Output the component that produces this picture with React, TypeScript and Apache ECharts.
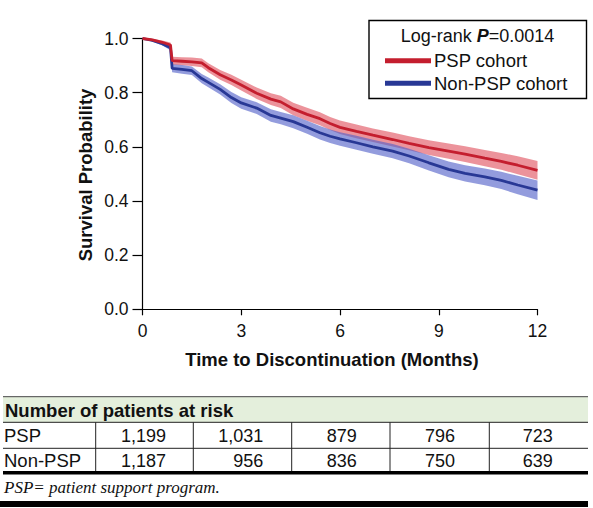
import React, { useEffect, useRef } from 'react';
import * as echarts from 'echarts';

// ---- Data ----
const timePoints = [0, 0.3, 0.6, 0.85, 0.9, 1.2, 1.5, 1.8, 2.0, 2.36, 2.7, 3.0, 3.47, 3.9, 4.2, 4.58, 5.0, 5.39, 5.7, 6.0, 6.5, 7.0, 7.6, 8.1, 8.7, 9.3, 9.8, 10.4, 10.9, 11.4, 12];
const pspSurv = [1.0, 0.995, 0.986, 0.976, 0.918, 0.916, 0.914, 0.91, 0.892, 0.866, 0.847, 0.828, 0.798, 0.776, 0.766, 0.74, 0.72, 0.704, 0.686, 0.672, 0.657, 0.643, 0.627, 0.613, 0.597, 0.584, 0.573, 0.558, 0.546, 0.532, 0.513];
const pspCI = [0, 0.004, 0.007, 0.009, 0.015, 0.015, 0.016, 0.016, 0.017, 0.018, 0.019, 0.02, 0.021, 0.022, 0.023, 0.023, 0.024, 0.024, 0.024, 0.025, 0.025, 0.025, 0.026, 0.026, 0.027, 0.028, 0.029, 0.03, 0.031, 0.033, 0.035];
const nonSurv = [1.0, 0.993, 0.981, 0.966, 0.89, 0.886, 0.881, 0.852, 0.838, 0.812, 0.782, 0.762, 0.743, 0.716, 0.706, 0.693, 0.672, 0.652, 0.639, 0.629, 0.615, 0.6, 0.584, 0.566, 0.541, 0.517, 0.502, 0.489, 0.476, 0.459, 0.44];
const nonCI = [0, 0.004, 0.007, 0.009, 0.015, 0.016, 0.016, 0.017, 0.018, 0.019, 0.02, 0.021, 0.022, 0.023, 0.023, 0.024, 0.024, 0.025, 0.025, 0.025, 0.026, 0.026, 0.026, 0.027, 0.028, 0.029, 0.03, 0.031, 0.032, 0.034, 0.036];

const seriesNames = ['PSP cohort', 'Non-PSP cohort'];
const pValueText = '0.0014';
const xAxisTitle = 'Time to Discontinuation (Months)';
const yAxisTitle = 'Survival Probability';

const tableTitle = 'Number of patients at risk';
const riskRowLabels = ['PSP', 'Non-PSP'];
const pspAtRisk = [1199, 1031, 879, 796, 723];
const nonPspAtRisk = [1187, 956, 836, 750, 639];
const footnote = 'PSP= patient support program.';

// ---- Styles ----
const RED = '#c41e2e';
const BLUE = '#283895';
const RED_BAND = 'rgba(224, 80, 94, 0.62)';
const BLUE_BAND = 'rgba(80, 96, 200, 0.62)';
const SANS = '"Liberation Sans", Arial, Helvetica, sans-serif';
const SERIF = '"Liberation Serif", "Times New Roman", serif';

function bandSeries(t: number[], s: number[], ci: number[], color: string) {
  return {
    type: 'custom',
    coordinateSystem: 'cartesian2d',
    silent: true,
    z: 1,
    data: [[t[0], s[0]]],
    renderItem: (_params: any, api: any) => {
      const upper = t.map((x, i) => api.coord([x, s[i] + ci[i]]));
      const lower = t.map((x, i) => api.coord([x, s[i] - ci[i]])).reverse();
      return {
        type: 'polygon',
        shape: { points: upper.concat(lower) },
        style: { fill: color },
      };
    },
  };
}

function lineSeries(name: string, t: number[], s: number[], color: string, z: number) {
  return {
    name,
    type: 'line',
    data: t.map((x, i) => [x, s[i]]),
    symbol: 'none',
    showSymbol: false,
    z,
    lineStyle: { color, width: 2.8 },
    itemStyle: { color },
  };
}

function txt(text: string, x: number, y: number, opts: any = {}) {
  return {
    type: 'text',
    x,
    y,
    silent: true,
    rotation: opts.rotation || 0,
    style: {
      text,
      fill: opts.fill || '#111',
      fontSize: opts.fontSize || 18,
      fontWeight: opts.fontWeight || 'normal',
      fontStyle: opts.fontStyle || 'normal',
      fontFamily: opts.fontFamily || SANS,
      align: opts.align || 'left',
      verticalAlign: opts.verticalAlign || 'middle',
    },
  };
}

function buildGraphics() {
  const g: any[] = [];
  // axis titles
  g.push(txt(xAxisTitle, 332, 359, { fontWeight: 'bold', fontSize: 18.5, align: 'center' }));
  g.push(txt(yAxisTitle, 85, 175, { fontWeight: 'bold', fontSize: 18.5, align: 'center', rotation: Math.PI / 2 }));

  // legend box
  g.push({ type: 'rect', shape: { x: 369, y: 20.5, width: 217.5, height: 78 }, style: { fill: '#fff', stroke: '#000', lineWidth: 1.4 }, z: 10 });
  g.push({
    type: 'text', x: 477.5, y: 36, z: 11, silent: true,
    style: {
      text: '{a|Log-rank }{b|P}{a|=' + pValueText + '}',
      align: 'center', verticalAlign: 'middle',
      rich: {
        a: { fontSize: 18, fontFamily: SANS, fill: '#111' },
        b: { fontSize: 18, fontFamily: SANS, fontWeight: 'bold', fontStyle: 'italic', fill: '#111' },
      },
    },
  });
  const legColors = [RED, BLUE];
  const legY = [60.7, 83.3];
  seriesNames.forEach((n, i) => {
    g.push({ type: 'line', z: 11, shape: { x1: 385, y1: legY[i], x2: 431, y2: legY[i] }, style: { stroke: legColors[i], lineWidth: 5 } });
    const t: any = txt(n, 434, legY[i], { fontSize: 18.5 });
    t.z = 11;
    g.push(t);
  });

  // risk table
  const L = 3, R = 588;
  g.push({ type: 'rect', shape: { x: L, y: 397, width: R - L, height: 25.3 }, style: { fill: '#e4efdc' } });
  g.push({ type: 'line', shape: { x1: L, y1: 396.7, x2: R, y2: 396.7 }, style: { stroke: '#444', lineWidth: 1 } });
  g.push({ type: 'line', shape: { x1: L, y1: 422.3, x2: R, y2: 422.3 }, style: { stroke: '#222', lineWidth: 1 } });
  g.push({ type: 'line', shape: { x1: L, y1: 448.3, x2: R, y2: 448.3 }, style: { stroke: '#222', lineWidth: 1 } });
  g.push({ type: 'rect', shape: { x: L, y: 471, width: R - L, height: 3.4 }, style: { fill: '#000' } });
  g.push({ type: 'rect', shape: { x: 0, y: 501, width: R, height: 6 }, style: { fill: '#000' } });
  const colLines = [95.7, 193.3, 291.7, 390, 489.3];
  colLines.forEach((x) => {
    g.push({ type: 'line', shape: { x1: x, y1: 422.3, x2: x, y2: 471 }, style: { stroke: '#222', lineWidth: 1 } });
  });
  g.push(txt(tableTitle, 5, 410, { fontWeight: 'bold', fontSize: 18.5 }));
  const rowY = [435.5, 460.5];
  const numRight = [166, 263.3, 356.7, 455, 552.7];
  const rows = [pspAtRisk, nonPspAtRisk];
  riskRowLabels.forEach((lab, r) => {
    g.push(txt(lab, 4, rowY[r], { fontSize: 18.5 }));
    rows[r].forEach((v, c) => {
      g.push(txt(v.toLocaleString('en-US'), numRight[c], rowY[r], { fontSize: 18, align: 'right' }));
    });
  });
  g.push(txt(footnote, 4, 487, { fontSize: 17, fontStyle: 'italic', fontFamily: SERIF }));
  return g;
}

export default function App() {
  const ref = useRef<HTMLDivElement>(null);
  useEffect(() => {
    if (!ref.current) return;
    const chart = echarts.init(ref.current, null, { renderer: 'svg' });
    const axisText = { color: '#111', fontSize: 17.5, fontFamily: SANS };
    chart.setOption({
      animation: false,
      backgroundColor: '#fff',
      grid: { left: 142.5, right: 55.5, top: 38.5, bottom: 198.7, containLabel: false },
      xAxis: {
        type: 'value', min: 0, max: 12, interval: 3,
        axisLine: { show: true, lineStyle: { color: '#000', width: 1.2 } },
        axisTick: { show: true, length: 6, lineStyle: { color: '#000', width: 1.2 } },
        axisLabel: { ...axisText, margin: 13 },
        splitLine: { show: false },
      },
      yAxis: {
        type: 'value', min: 0, max: 1, interval: 0.2,
        axisLine: { show: true, lineStyle: { color: '#000', width: 1.2 } },
        axisTick: { show: true, length: 10, lineStyle: { color: '#000', width: 1.2 } },
        axisLabel: { ...axisText, margin: 14, formatter: (v: number) => v.toFixed(1) },
        splitLine: { show: false },
      },
      series: [
        bandSeries(timePoints, pspSurv, pspCI, RED_BAND),
        bandSeries(timePoints, nonSurv, nonCI, BLUE_BAND),
        lineSeries(seriesNames[1], timePoints, nonSurv, BLUE, 3),
        lineSeries(seriesNames[0], timePoints, pspSurv, RED, 4),
      ],
      graphic: buildGraphics(),
    });
    return () => chart.dispose();
  }, []);
  return <div ref={ref} style={{ position: 'absolute', left: 0, top: 0, width: 593, height: 508, background: '#fff' }} />;
}
